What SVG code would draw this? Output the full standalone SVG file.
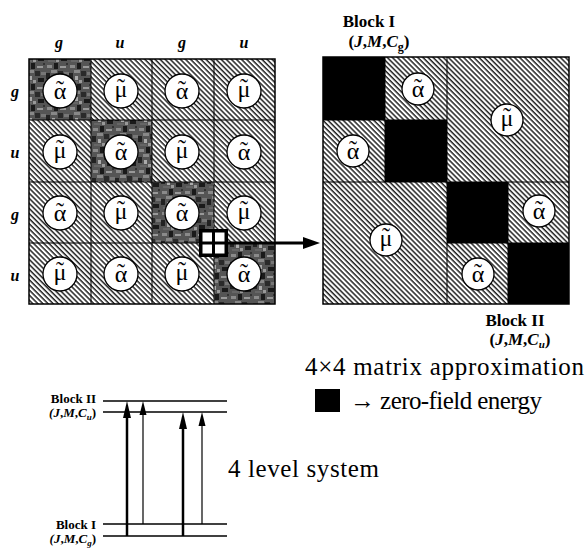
<svg xmlns="http://www.w3.org/2000/svg" width="588" height="548" viewBox="0 0 588 548">
<defs>
<pattern id="hatch" width="3.6" height="3.6" patternUnits="userSpaceOnUse" patternTransform="rotate(45)">
<rect width="3.6" height="3.6" fill="#fff"/>
<rect width="3.6" height="1.5" fill="#222"/>
</pattern>
<pattern id="dark" width="23" height="21" patternUnits="userSpaceOnUse">
<rect width="23" height="21" fill="#555"/>
<rect x="1" y="2" width="5" height="3" fill="#8a8a8a"/>
<rect x="8" y="0" width="4" height="6" fill="#1a1a1a"/>
<rect x="14" y="3" width="6" height="2" fill="#999"/>
<rect x="5" y="7" width="6" height="3" fill="#888"/>
<rect x="0" y="10" width="4" height="6" fill="#222"/>
<rect x="12" y="8" width="5" height="5" fill="#2a2a2a"/>
<rect x="18" y="9" width="5" height="3" fill="#777"/>
<rect x="6" y="13" width="3" height="4" fill="#aaa"/>
<rect x="15" y="15" width="6" height="4" fill="#1a1a1a"/>
<rect x="2" y="18" width="7" height="2" fill="#666"/>
<rect x="10" y="17" width="3" height="3" fill="#999"/>
<rect x="20" y="0" width="2" height="2" fill="#333"/>
</pattern>
<g id="a"><circle class="cir" r="17"/><text class="sym" y="8">α</text><text class="sym" y="6">˜</text></g>
<g id="m"><circle class="cir" r="17"/><text class="sym" y="6">μ</text><text class="sym" y="4">˜</text></g>
<g id="a2"><circle class="cir" r="16"/><text class="sym" y="8">α</text><text class="sym" y="6">˜</text></g>
<g id="m2"><circle class="cir" r="16"/><text class="sym" y="6">μ</text><text class="sym" y="4">˜</text></g>
</defs>
<style>
.hl{font-family:"Liberation Serif",serif;font-weight:bold;font-style:italic;font-size:16px;text-anchor:middle}
.sym{font-family:"Liberation Serif",serif;font-size:24px;text-anchor:middle}
.cir{fill:#fff;stroke:#000;stroke-width:1.3}
.grid{fill:none;stroke:#000;stroke-width:1}
.bl{font-family:"Liberation Serif",serif;font-weight:bold;font-size:17px;text-anchor:middle}
.bls{font-family:"Liberation Serif",serif;font-weight:bold;font-size:13px;text-anchor:end}
.big{font-family:"Liberation Serif",serif;font-size:25px}
.lvl{stroke:#000;stroke-width:1.3}
</style>

<g id="left-matrix">
<rect x="29" y="59" width="246" height="245" fill="url(#hatch)"/>
<rect x="29" y="59" width="62" height="61" fill="url(#dark)"/>
<rect x="91" y="120" width="61" height="62" fill="url(#dark)"/>
<rect x="152" y="182" width="62" height="61" fill="url(#dark)"/>
<rect x="214" y="243" width="61" height="61" fill="url(#dark)"/>
<path class="grid" d="M91,59V304M152,59V304M214,59V304M29,120H275M29,182H275M29,243H275"/>
<rect x="29" y="59" width="246" height="245" fill="none" stroke="#000" stroke-width="1.5"/>
<g class="hl"><text x="59" y="48">g</text><text x="120" y="48">u</text><text x="182" y="48">g</text><text x="244" y="48">u</text>
<text x="15" y="97">g</text><text x="15" y="158">u</text><text x="15" y="220">g</text><text x="15" y="281">u</text></g>
<use href="#a" x="60" y="91"/><use href="#m" x="121" y="91"/><use href="#a" x="182" y="91"/><use href="#m" x="244" y="91"/>
<use href="#m" x="60" y="152"/><use href="#a" x="121" y="152"/><use href="#m" x="182" y="152"/><use href="#a" x="244" y="152"/>
<use href="#a" x="60" y="213"/><use href="#m" x="121" y="213"/><use href="#a" x="182" y="213"/><use href="#m" x="244" y="213"/>
<use href="#m" x="60" y="274"/><use href="#a" x="121" y="274"/><use href="#m" x="182" y="274"/><use href="#a" x="244" y="274"/>
</g>

<g id="zoom-icon">
<rect x="199" y="229" width="29" height="28" fill="#000"/>
<rect x="202.5" y="232.5" width="9.5" height="9" fill="#fff"/>
<rect x="215" y="232.5" width="9.5" height="9" fill="#fff"/>
<rect x="202.5" y="244.5" width="9.5" height="9" fill="#fff"/>
<rect x="215" y="244.5" width="9.5" height="9" fill="#fff"/>
</g>

<g id="connectors">
<line x1="228" y1="243" x2="306" y2="243" stroke="#000" stroke-width="3"/>
<polygon points="303,237 320,243 303,249" fill="#000"/>
<line class="lvl" x1="103" y1="401" x2="227" y2="401"/>
<line class="lvl" x1="103" y1="412" x2="227" y2="412"/>
<line class="lvl" x1="103" y1="524" x2="227" y2="524"/>
<line class="lvl" x1="103" y1="536" x2="227" y2="536"/>
<line x1="127" y1="536" x2="127" y2="412" stroke="#000" stroke-width="2.5"/>
<polygon points="123,418 127,401 131,418" fill="#000"/>
<line x1="143" y1="524" x2="143" y2="410" stroke="#000" stroke-width="1.2"/>
<polygon points="139.5,415 143,401 146.5,415" fill="#000"/>
<line x1="183" y1="536" x2="183" y2="423" stroke="#000" stroke-width="2.5"/>
<polygon points="179,429 183,412 187,429" fill="#000"/>
<line x1="202" y1="524" x2="202" y2="421" stroke="#000" stroke-width="1.2"/>
<polygon points="198.5,426 202,412 205.5,426" fill="#000"/>
</g>

<g id="right-matrix">
<rect x="323" y="57" width="246" height="247" fill="url(#hatch)"/>
<rect x="323" y="57" width="62" height="63" fill="#000"/>
<rect x="385" y="120" width="62" height="62" fill="#000"/>
<rect x="447" y="182" width="61" height="61" fill="#000"/>
<rect x="508" y="243" width="61" height="61" fill="#000"/>
<path class="grid" d="M447,57V304M323,182H569M385,57V182M323,120H447M508,182V304M447,243H569"/>
<rect x="323" y="57" width="246" height="247" fill="none" stroke="#000" stroke-width="1.5"/>
<use href="#a2" x="418" y="89"/>
<use href="#a2" x="353" y="151"/>
<use href="#m2" x="507" y="120"/>
<use href="#m2" x="386" y="240"/>
<use href="#a2" x="539" y="211"/>
<use href="#a2" x="478" y="274"/>
</g>

<g id="block-labels">
<text class="bl" x="369" y="27">Block I</text>
<text class="bl" x="379" y="47">(<tspan font-style="italic">J</tspan>,<tspan font-style="italic">M</tspan>,<tspan font-style="italic">C</tspan><tspan font-size="12" dy="4">g</tspan><tspan dy="-4">)</tspan></text>
<text class="bl" x="515" y="326">Block II</text>
<text class="bl" x="520" y="345">(<tspan font-style="italic">J</tspan>,<tspan font-style="italic">M</tspan>,<tspan font-style="italic">C</tspan><tspan font-size="11" font-style="italic" dy="3">u</tspan><tspan dy="-3">)</tspan></text>
</g>

<g id="legend">
<text class="big" x="305" y="375" textLength="279" lengthAdjust="spacing">4×4 matrix approximation</text>
<rect x="315" y="389" width="25" height="23" fill="#000"/>
<text class="big" x="350" y="409" textLength="192" lengthAdjust="spacing">→ zero-field energy</text>
<text class="big" x="228" y="477" textLength="151" lengthAdjust="spacing">4 level system</text>
</g>

<g id="level-labels">
<text class="bls" x="96" y="403">Block II</text>
<text class="bls" x="96" y="417"><tspan font-style="italic">(J</tspan>,<tspan font-style="italic">M</tspan>,<tspan font-style="italic">C</tspan><tspan font-size="9" font-style="italic" dy="3">u</tspan><tspan dy="-3">)</tspan></text>
<text class="bls" x="96" y="529">Block I</text>
<text class="bls" x="96" y="543"><tspan font-style="italic">(J</tspan>,<tspan font-style="italic">M</tspan>,<tspan font-style="italic">C</tspan><tspan font-size="9" font-style="italic" dy="3">g</tspan><tspan dy="-3">)</tspan></text>
</g>
</svg>
